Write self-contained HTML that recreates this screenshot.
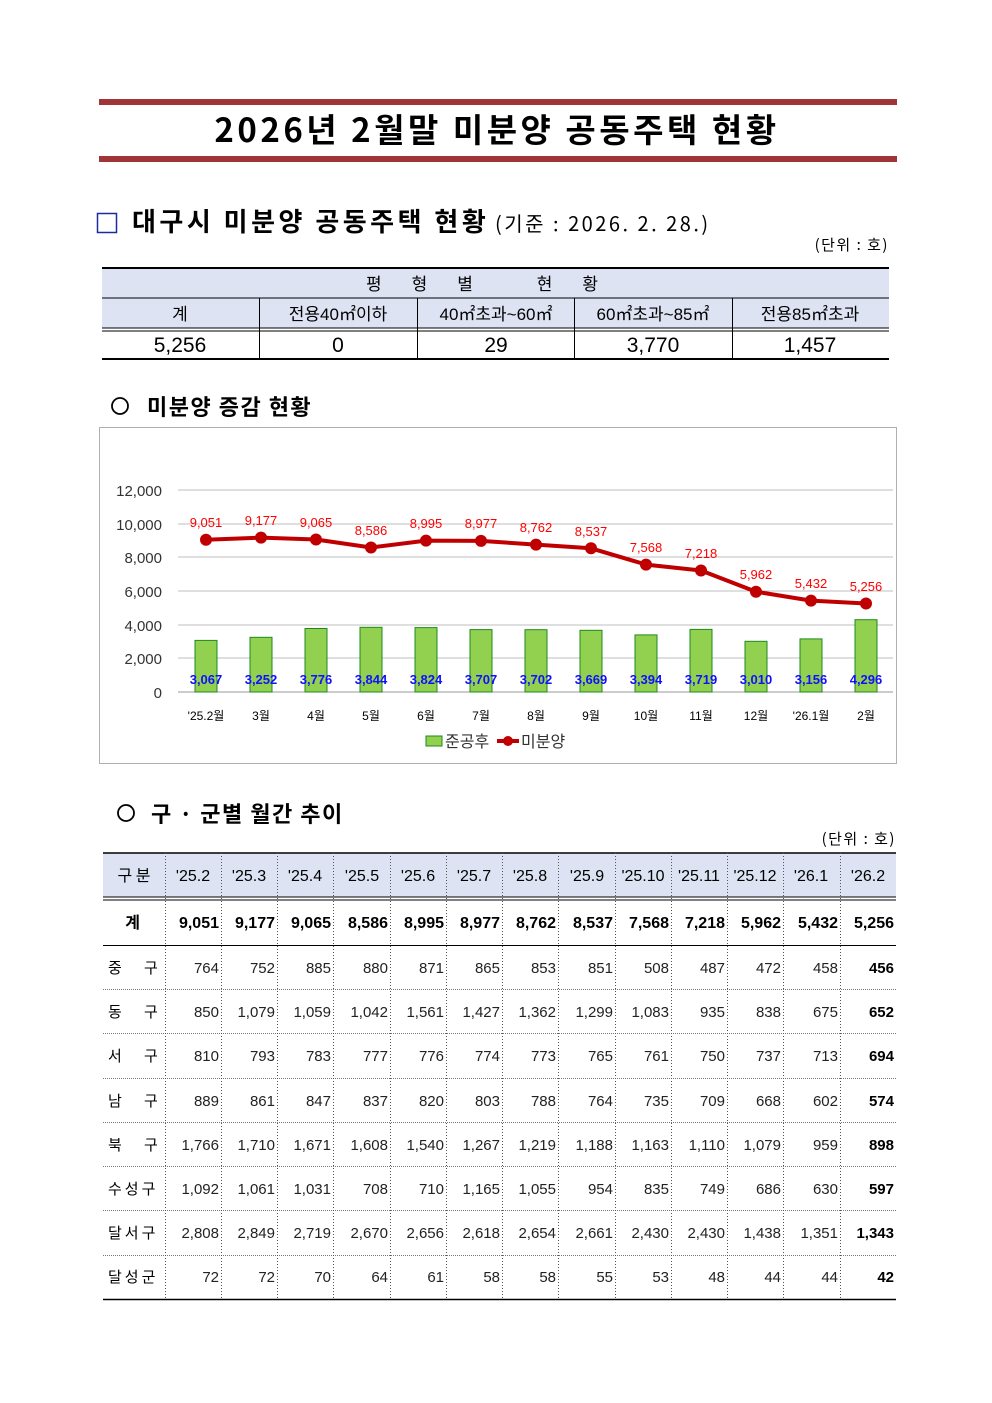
<!DOCTYPE html>
<html><head><meta charset="utf-8"><style>
html,body{margin:0;padding:0;background:#fff}
svg{display:block}
text{font-family:"Liberation Sans","Noto Sans CJK KR",sans-serif}
.k{font-family:"Noto Sans CJK KR","Liberation Sans",sans-serif}
</style></head><body>
<svg width="992" height="1403" viewBox="0 0 992 1403" xmlns="http://www.w3.org/2000/svg">
<rect x="99" y="99" width="798" height="6" fill="#a03538"/>
<rect x="99" y="156" width="798" height="6" fill="#a03538"/>
<text class="k" x="497" y="142" font-size="33" font-weight="bold" text-anchor="middle" letter-spacing="3.5">2026년 2월말 미분양 공동주택 현황</text>

<rect x="97.5" y="213.5" width="19" height="19" fill="none" stroke="#1f2a9c" stroke-width="1.5"/>
<text class="k" x="132" y="231" font-size="26" font-weight="bold" letter-spacing="3.5">대구시 미분양 공동주택 현황</text>
<text class="k" x="495" y="231" font-size="20" letter-spacing="2.5">(기준 : 2026. 2. 28.)</text>
<text class="k" x="889" y="250" font-size="15" text-anchor="end" letter-spacing="1.5">(단위 : 호)</text>

<!-- table 1 -->
<rect x="102" y="268" width="787" height="60" fill="#dde3f3"/>
<line x1="102" y1="268" x2="889" y2="268" stroke="#000" stroke-width="2"/>
<line x1="102" y1="298" x2="889" y2="298" stroke="#000" stroke-width="1"/>
<line x1="102" y1="328" x2="889" y2="328" stroke="#000" stroke-width="1"/>
<line x1="102" y1="331" x2="889" y2="331" stroke="#000" stroke-width="1"/>
<line x1="102" y1="359" x2="889" y2="359" stroke="#000" stroke-width="2"/>
<g stroke="#000" stroke-width="1">
<line x1="259.5" y1="298" x2="259.5" y2="359"/><line x1="417.5" y1="298" x2="417.5" y2="359"/>
<line x1="574.5" y1="298" x2="574.5" y2="359"/><line x1="732.5" y1="298" x2="732.5" y2="359"/>
</g>
<text class="k" x="497" y="290" font-size="17" text-anchor="middle" letter-spacing="30">평형별 현황</text>
<g class="k" font-size="17" text-anchor="middle">
<text x="180" y="320">계</text><text x="338" y="320">전용40㎡이하</text><text x="496" y="320">40㎡초과~60㎡</text>
<text x="653" y="320">60㎡초과~85㎡</text><text x="810" y="320">전용85㎡초과</text>
</g>
<g font-size="21" text-anchor="middle">
<text x="180" y="352">5,256</text><text x="338" y="352">0</text><text x="496" y="352">29</text>
<text x="653" y="352">3,770</text><text x="810" y="352">1,457</text>
</g>

<circle cx="120" cy="406" r="8" fill="none" stroke="#000" stroke-width="1.8"/>
<text class="k" x="147" y="415" font-size="22" font-weight="bold" letter-spacing="1.5">미분양 증감 현황</text>

<!-- chart -->
<rect x="99.5" y="427.5" width="797" height="336" fill="#fff" stroke="#b0b0b0"/>
<g stroke="#bfbfbf" stroke-width="1">
<line x1="178" y1="490" x2="893" y2="490"/><line x1="178" y1="524" x2="893" y2="524"/>
<line x1="178" y1="557" x2="893" y2="557"/><line x1="178" y1="591" x2="893" y2="591"/>
<line x1="178" y1="625" x2="893" y2="625"/><line x1="178" y1="658" x2="893" y2="658"/>
<line x1="178" y1="692" x2="893" y2="692" stroke="#999"/>
</g>
<g font-size="15" fill="#333" text-anchor="end">
<text x="162" y="496">12,000</text><text x="162" y="530">10,000</text><text x="162" y="563">8,000</text>
<text x="162" y="597">6,000</text><text x="162" y="631">4,000</text><text x="162" y="664">2,000</text><text x="162" y="698">0</text>
</g>
<g fill="#92d050" stroke="#1e8a1e" stroke-width="1">
<rect x="195" y="640.4" width="22" height="51.6"/>
<rect x="250" y="637.3" width="22" height="54.7"/>
<rect x="305" y="628.5" width="22" height="63.5"/>
<rect x="360" y="627.3" width="22" height="64.7"/>
<rect x="415" y="627.6" width="22" height="64.4"/>
<rect x="470" y="629.6" width="22" height="62.4"/>
<rect x="525" y="629.7" width="22" height="62.3"/>
<rect x="580" y="630.3" width="22" height="61.7"/>
<rect x="635" y="634.9" width="22" height="57.1"/>
<rect x="690" y="629.4" width="22" height="62.6"/>
<rect x="745" y="641.3" width="22" height="50.7"/>
<rect x="800" y="638.9" width="22" height="53.1"/>
<rect x="855" y="619.7" width="22" height="72.3"/>
</g>
<g font-size="13" font-weight="bold" fill="#1010ff" text-anchor="middle">
<text x="206" y="684">3,067</text><text x="261" y="684">3,252</text><text x="316" y="684">3,776</text>
<text x="371" y="684">3,844</text><text x="426" y="684">3,824</text><text x="481" y="684">3,707</text>
<text x="536" y="684">3,702</text><text x="591" y="684">3,669</text><text x="646" y="684">3,394</text>
<text x="701" y="684">3,719</text><text x="756" y="684">3,010</text><text x="811" y="684">3,156</text><text x="866" y="684">4,296</text>
</g>
<polyline fill="none" stroke="#c00000" stroke-width="4" stroke-linejoin="round"
points="206,539.7 261,537.6 316,539.5 371,547.5 426,540.6 481,540.9 536,544.6 591,548.3 646,564.6 701,570.5 756,591.7 811,600.6 866,603.5"/>
<g fill="#c00000">
<circle cx="206" cy="539.7" r="6"/><circle cx="261" cy="537.6" r="6"/><circle cx="316" cy="539.5" r="6"/>
<circle cx="371" cy="547.5" r="6"/><circle cx="426" cy="540.6" r="6"/><circle cx="481" cy="540.9" r="6"/>
<circle cx="536" cy="544.6" r="6"/><circle cx="591" cy="548.3" r="6"/><circle cx="646" cy="564.6" r="6"/>
<circle cx="701" cy="570.5" r="6"/><circle cx="756" cy="591.7" r="6"/><circle cx="811" cy="600.6" r="6"/><circle cx="866" cy="603.5" r="6"/>
</g>
<g font-size="13" fill="#ff0000" text-anchor="middle">
<text x="206" y="527">9,051</text><text x="261" y="525">9,177</text><text x="316" y="527">9,065</text>
<text x="371" y="535">8,586</text><text x="426" y="528">8,995</text><text x="481" y="528">8,977</text>
<text x="536" y="532">8,762</text><text x="591" y="536">8,537</text><text x="646" y="552">7,568</text>
<text x="701" y="558">7,218</text><text x="756" y="579">5,962</text><text x="811" y="588">5,432</text><text x="866" y="591">5,256</text>
</g>
<g class="k" font-size="12" text-anchor="middle">
<text x="206" y="720">'25.2월</text><text x="261" y="720">3월</text><text x="316" y="720">4월</text>
<text x="371" y="720">5월</text><text x="426" y="720">6월</text><text x="481" y="720">7월</text>
<text x="536" y="720">8월</text><text x="591" y="720">9월</text><text x="646" y="720">10월</text>
<text x="701" y="720">11월</text><text x="756" y="720">12월</text><text x="811" y="720">'26.1월</text><text x="866" y="720">2월</text>
</g>
<rect x="426" y="736" width="16" height="10" fill="#92d050" stroke="#1e8a1e"/>
<text class="k" x="445" y="747" font-size="16" fill="#333">준공후</text>
<line x1="497" y1="741" x2="519" y2="741" stroke="#c00000" stroke-width="4"/>
<circle cx="508" cy="741" r="5" fill="#c00000"/>
<text class="k" x="521" y="747" font-size="16" fill="#333">미분양</text>

<circle cx="126" cy="813" r="8" fill="none" stroke="#000" stroke-width="1.8"/>
<text class="k" x="151" y="822" font-size="22" font-weight="bold" letter-spacing="1.5">구 · 군별 월간 추이</text>
<text class="k" x="896" y="844" font-size="15" text-anchor="end" letter-spacing="1.5">(단위 : 호)</text>

<!-- table 2 -->
<rect x="103" y="853" width="793" height="44" fill="#dde3f3"/>
<line x1="103" y1="853" x2="896" y2="853" stroke="#000" stroke-width="1.5"/>
<line x1="103" y1="897" x2="896" y2="897" stroke="#000"/>
<line x1="103" y1="900" x2="896" y2="900" stroke="#000"/>
<line x1="103" y1="945.5" x2="896" y2="945.5" stroke="#000"/>
<g stroke="#777" stroke-width="1" stroke-dasharray="1,1">
<line x1="103" y1="989.5" x2="896" y2="989.5"/><line x1="103" y1="1033.5" x2="896" y2="1033.5"/>
<line x1="103" y1="1078.5" x2="896" y2="1078.5"/><line x1="103" y1="1122.5" x2="896" y2="1122.5"/>
<line x1="103" y1="1166.5" x2="896" y2="1166.5"/><line x1="103" y1="1210.5" x2="896" y2="1210.5"/>
<line x1="103" y1="1255.5" x2="896" y2="1255.5"/>
</g>
<line x1="103" y1="1299.5" x2="896" y2="1299.5" stroke="#000" stroke-width="1.5"/>
<g stroke="#555" stroke-width="1" stroke-dasharray="1,2">
<line x1="165.5" y1="853" x2="165.5" y2="1299"/><line x1="221.5" y1="853" x2="221.5" y2="1299"/>
<line x1="277.5" y1="853" x2="277.5" y2="1299"/><line x1="333.5" y1="853" x2="333.5" y2="1299"/>
<line x1="390.5" y1="853" x2="390.5" y2="1299"/><line x1="446.5" y1="853" x2="446.5" y2="1299"/>
<line x1="502.5" y1="853" x2="502.5" y2="1299"/><line x1="558.5" y1="853" x2="558.5" y2="1299"/>
<line x1="615.5" y1="853" x2="615.5" y2="1299"/><line x1="671.5" y1="853" x2="671.5" y2="1299"/>
<line x1="727.5" y1="853" x2="727.5" y2="1299"/><line x1="783.5" y1="853" x2="783.5" y2="1299"/>
<line x1="840.5" y1="853" x2="840.5" y2="1299"/>
</g>
<g font-size="16" text-anchor="middle">
<text class="k" x="134" y="881">구 분</text>
<text x="193" y="881">'25.2</text><text x="249" y="881">'25.3</text><text x="305" y="881">'25.4</text>
<text x="362" y="881">'25.5</text><text x="418" y="881">'25.6</text><text x="474" y="881">'25.7</text>
<text x="530" y="881">'25.8</text><text x="587" y="881">'25.9</text><text x="643" y="881">'25.10</text>
<text x="699" y="881">'25.11</text><text x="755" y="881">'25.12</text><text x="811" y="881">'26.1</text><text x="868" y="881">'26.2</text>
</g>
<g font-size="16" font-weight="bold" text-anchor="end">
<text class="k" x="140" y="928">계</text>
<text x="219" y="928">9,051</text><text x="275" y="928">9,177</text><text x="331" y="928">9,065</text>
<text x="388" y="928">8,586</text><text x="444" y="928">8,995</text><text x="500" y="928">8,977</text>
<text x="556" y="928">8,762</text><text x="613" y="928">8,537</text><text x="669" y="928">7,568</text>
<text x="725" y="928">7,218</text><text x="781" y="928">5,962</text><text x="838" y="928">5,432</text><text x="894" y="928">5,256</text>
</g>
<g class="k" font-size="15">
<text x="108" y="973">중</text><text x="144" y="973">구</text>
<text x="108" y="1017">동</text><text x="144" y="1017">구</text>
<text x="108" y="1061">서</text><text x="144" y="1061">구</text>
<text x="108" y="1106">남</text><text x="144" y="1106">구</text>
<text x="108" y="1150">북</text><text x="144" y="1150">구</text>
<text x="108" y="1194" letter-spacing="3">수성구</text>
<text x="108" y="1238" letter-spacing="3">달서구</text>
<text x="108" y="1282" letter-spacing="3">달성군</text>
</g>
<g font-size="15" text-anchor="end" fill="#222">
<text y="973"><tspan x="219">764</tspan><tspan x="275">752</tspan><tspan x="331">885</tspan><tspan x="388">880</tspan><tspan x="444">871</tspan><tspan x="500">865</tspan><tspan x="556">853</tspan><tspan x="613">851</tspan><tspan x="669">508</tspan><tspan x="725">487</tspan><tspan x="781">472</tspan><tspan x="838">458</tspan><tspan x="894" font-weight="bold" fill="#000">456</tspan></text>
<text y="1017"><tspan x="219">850</tspan><tspan x="275">1,079</tspan><tspan x="331">1,059</tspan><tspan x="388">1,042</tspan><tspan x="444">1,561</tspan><tspan x="500">1,427</tspan><tspan x="556">1,362</tspan><tspan x="613">1,299</tspan><tspan x="669">1,083</tspan><tspan x="725">935</tspan><tspan x="781">838</tspan><tspan x="838">675</tspan><tspan x="894" font-weight="bold" fill="#000">652</tspan></text>
<text y="1061"><tspan x="219">810</tspan><tspan x="275">793</tspan><tspan x="331">783</tspan><tspan x="388">777</tspan><tspan x="444">776</tspan><tspan x="500">774</tspan><tspan x="556">773</tspan><tspan x="613">765</tspan><tspan x="669">761</tspan><tspan x="725">750</tspan><tspan x="781">737</tspan><tspan x="838">713</tspan><tspan x="894" font-weight="bold" fill="#000">694</tspan></text>
<text y="1106"><tspan x="219">889</tspan><tspan x="275">861</tspan><tspan x="331">847</tspan><tspan x="388">837</tspan><tspan x="444">820</tspan><tspan x="500">803</tspan><tspan x="556">788</tspan><tspan x="613">764</tspan><tspan x="669">735</tspan><tspan x="725">709</tspan><tspan x="781">668</tspan><tspan x="838">602</tspan><tspan x="894" font-weight="bold" fill="#000">574</tspan></text>
<text y="1150"><tspan x="219">1,766</tspan><tspan x="275">1,710</tspan><tspan x="331">1,671</tspan><tspan x="388">1,608</tspan><tspan x="444">1,540</tspan><tspan x="500">1,267</tspan><tspan x="556">1,219</tspan><tspan x="613">1,188</tspan><tspan x="669">1,163</tspan><tspan x="725">1,110</tspan><tspan x="781">1,079</tspan><tspan x="838">959</tspan><tspan x="894" font-weight="bold" fill="#000">898</tspan></text>
<text y="1194"><tspan x="219">1,092</tspan><tspan x="275">1,061</tspan><tspan x="331">1,031</tspan><tspan x="388">708</tspan><tspan x="444">710</tspan><tspan x="500">1,165</tspan><tspan x="556">1,055</tspan><tspan x="613">954</tspan><tspan x="669">835</tspan><tspan x="725">749</tspan><tspan x="781">686</tspan><tspan x="838">630</tspan><tspan x="894" font-weight="bold" fill="#000">597</tspan></text>
<text y="1238"><tspan x="219">2,808</tspan><tspan x="275">2,849</tspan><tspan x="331">2,719</tspan><tspan x="388">2,670</tspan><tspan x="444">2,656</tspan><tspan x="500">2,618</tspan><tspan x="556">2,654</tspan><tspan x="613">2,661</tspan><tspan x="669">2,430</tspan><tspan x="725">2,430</tspan><tspan x="781">1,438</tspan><tspan x="838">1,351</tspan><tspan x="894" font-weight="bold" fill="#000">1,343</tspan></text>
<text y="1282"><tspan x="219">72</tspan><tspan x="275">72</tspan><tspan x="331">70</tspan><tspan x="388">64</tspan><tspan x="444">61</tspan><tspan x="500">58</tspan><tspan x="556">58</tspan><tspan x="613">55</tspan><tspan x="669">53</tspan><tspan x="725">48</tspan><tspan x="781">44</tspan><tspan x="838">44</tspan><tspan x="894" font-weight="bold" fill="#000">42</tspan></text>
</g>
</svg>
</body></html>
